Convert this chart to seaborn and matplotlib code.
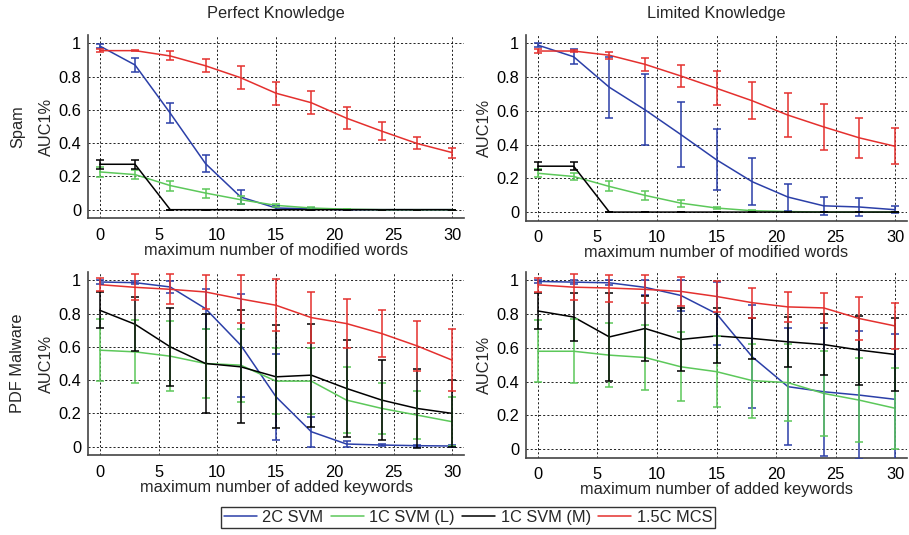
import numpy as np
import pandas as pd
import matplotlib
matplotlib.use("Agg")
import matplotlib.pyplot as plt
import seaborn as sns
from matplotlib.lines import Line2D

x = [0, 3, 6, 9, 12, 15, 18, 21, 24, 27, 30]
series_names = ["2C SVM", "1C SVM (L)", "1C SVM (M)", "1.5C MCS"]
colors = ["#2b3fa8", "#5cc85a", "#000000", "#e4302e"]
row_labels = ["Spam", "PDF Malware"]
col_titles = ["Perfect Knowledge", "Limited Knowledge"]
xlabels = ["maximum number of modified words", "maximum number of added keywords"]

# Spam - Perfect Knowledge
spam_pk_mean = {
    "2C SVM":     [0.984, 0.87, 0.58, 0.277, 0.076, 0.01, 0.005, 0.0, 0.0, 0.0, 0.0],
    "1C SVM (L)": [0.227, 0.211, 0.145, 0.10, 0.06, 0.026, 0.01, 0.003, 0.0, 0.0, 0.0],
    "1C SVM (M)": [0.273, 0.273, 0.0, 0.0, 0.0, 0.0, 0.0, 0.0, 0.0, 0.0, 0.0],
    "1.5C MCS":   [0.956, 0.956, 0.924, 0.865, 0.793, 0.70, 0.643, 0.55, 0.472, 0.398, 0.343],
}
spam_pk_err = {
    "2C SVM":     [0.01, 0.043, 0.06, 0.05, 0.04, 0.012, 0.005, 0.0, 0.0, 0.0, 0.0],
    "1C SVM (L)": [0.028, 0.027, 0.03, 0.027, 0.025, 0.01, 0.005, 0.0, 0.0, 0.0, 0.0],
    "1C SVM (M)": [0.027, 0.027, 0.0, 0.0, 0.0, 0.0, 0.0, 0.0, 0.0, 0.0, 0.0],
    "1.5C MCS":   [0.01, 0.005, 0.027, 0.04, 0.07, 0.07, 0.07, 0.068, 0.054, 0.036, 0.03],
}
# Spam - Limited Knowledge
spam_lk_mean = {
    "2C SVM":     [0.99, 0.921, 0.74, 0.606, 0.46, 0.31, 0.18, 0.089, 0.037, 0.03, 0.014],
    "1C SVM (L)": [0.23, 0.211, 0.152, 0.099, 0.053, 0.024, 0.008, 0.003, 0.0, 0.0, 0.0],
    "1C SVM (M)": [0.272, 0.272, 0.0, 0.0, 0.0, 0.0, 0.0, 0.0, 0.0, 0.0, 0.0],
    "1.5C MCS":   [0.955, 0.955, 0.93, 0.876, 0.807, 0.734, 0.66, 0.575, 0.505, 0.44, 0.39],
}
spam_lk_err = {
    "2C SVM":     [0.01, 0.045, 0.18, 0.21, 0.19, 0.18, 0.14, 0.08, 0.054, 0.053, 0.022],
    "1C SVM (L)": [0.025, 0.022, 0.03, 0.028, 0.02, 0.008, 0.004, 0.0, 0.0, 0.0, 0.0],
    "1C SVM (M)": [0.025, 0.025, 0.0, 0.0, 0.0, 0.0, 0.0, 0.0, 0.0, 0.0, 0.0],
    "1.5C MCS":   [0.01, 0.008, 0.02, 0.04, 0.065, 0.1, 0.11, 0.13, 0.137, 0.12, 0.107],
}
# PDF Malware - Perfect Knowledge
pdf_pk_mean = {
    "2C SVM":     [0.99, 0.986, 0.96, 0.83, 0.61, 0.30, 0.09, 0.016, 0.01, 0.006, 0.004],
    "1C SVM (L)": [0.58, 0.57, 0.544, 0.50, 0.49, 0.394, 0.394, 0.28, 0.23, 0.19, 0.15],
    "1C SVM (M)": [0.82, 0.736, 0.60, 0.50, 0.48, 0.42, 0.43, 0.35, 0.28, 0.23, 0.20],
    "1.5C MCS":   [0.974, 0.958, 0.946, 0.93, 0.888, 0.85, 0.776, 0.74, 0.68, 0.606, 0.52],
}
pdf_pk_err = {
    "2C SVM":     [0.01, 0.008, 0.038, 0.12, 0.31, 0.257, 0.09, 0.016, 0.008, 0.006, 0.004],
    "1C SVM (L)": [0.185, 0.19, 0.21, 0.21, 0.22, 0.20, 0.20, 0.20, 0.155, 0.145, 0.147],
    "1C SVM (M)": [0.107, 0.162, 0.233, 0.296, 0.34, 0.31, 0.31, 0.29, 0.24, 0.235, 0.20],
    "1.5C MCS":   [0.04, 0.077, 0.09, 0.10, 0.145, 0.155, 0.152, 0.147, 0.142, 0.15, 0.185],
}
# PDF Malware - Limited Knowledge
pdf_lk_mean = {
    "2C SVM":     [0.994, 0.99, 0.986, 0.959, 0.911, 0.803, 0.547, 0.37, 0.34, 0.32, 0.295],
    "1C SVM (L)": [0.58, 0.58, 0.557, 0.543, 0.488, 0.459, 0.406, 0.394, 0.33, 0.29, 0.242],
    "1C SVM (M)": [0.819, 0.783, 0.665, 0.715, 0.65, 0.671, 0.656, 0.636, 0.62, 0.587, 0.561],
    "1.5C MCS":   [0.974, 0.96, 0.955, 0.947, 0.935, 0.905, 0.868, 0.843, 0.837, 0.774, 0.73],
}
pdf_lk_err = {
    "2C SVM":     [0.01, 0.01, 0.015, 0.046, 0.09, 0.186, 0.305, 0.345, 0.38, 0.38, 0.385],
    "1C SVM (L)": [0.185, 0.19, 0.19, 0.19, 0.205, 0.21, 0.22, 0.23, 0.25, 0.25, 0.24],
    "1C SVM (M)": [0.108, 0.14, 0.26, 0.19, 0.186, 0.163, 0.12, 0.15, 0.18, 0.205, 0.215],
    "1.5C MCS":   [0.04, 0.077, 0.08, 0.083, 0.086, 0.092, 0.09, 0.09, 0.088, 0.125, 0.138],
}

panels = [[(spam_pk_mean, spam_pk_err), (spam_lk_mean, spam_lk_err)],
          [(pdf_pk_mean, pdf_pk_err), (pdf_lk_mean, pdf_lk_err)]]

sns.set_theme(style="white")
plt.rcParams["font.family"] = ["Liberation Sans", "DejaVu Sans"]
plt.rcParams["axes.unicode_minus"] = False

W, H = 909, 535
fig = plt.figure(figsize=(W / 100, H / 100), dpi=100)

# pixel boxes: (left, top, right, bottom)
boxes = [[(88, 35, 464, 218), (526, 35, 907, 220.5)],
         [(88, 272, 464, 455), (526, 272, 907, 457.5)]]

FS = 11.8
for r in range(2):
    for c in range(2):
        l, t, rr, b = boxes[r][c]
        ax = fig.add_axes([l / W, 1 - b / H, (rr - l) / W, (b - t) / H])
        means, errs = panels[r][c]
        rows = []
        for name in series_names:
            for xi, m in zip(x, means[name]):
                rows.append({"x": xi, "y": m, "series": name})
        df = pd.DataFrame(rows)
        sns.lineplot(data=df, x="x", y="y", hue="series", hue_order=series_names,
                     palette=colors, linewidth=1.1, ax=ax, legend=False, zorder=3)
        for name, col in zip(series_names, colors):
            ax.errorbar(x, means[name], yerr=errs[name], fmt="none", ecolor=col,
                        elinewidth=1.1, capsize=3.2, capthick=1.1, zorder=3)
        ax.set_xlim(-1, 31)
        ax.set_ylim(-0.05, 1.05)
        ax.set_xticks([0, 5, 10, 15, 20, 25, 30])
        ax.set_yticks([0, 0.2, 0.4, 0.6, 0.8, 1.0])
        ax.set_yticklabels(["0", "0.2", "0.4", "0.6", "0.8", "1"])
        ax.grid(True, linestyle=(0, (2.5, 2.5)), color="black", linewidth=0.6, zorder=0)
        ax.set_axisbelow(True)
        for s in ["top", "right"]:
            ax.spines[s].set_visible(False)
        for s in ["left", "bottom"]:
            ax.spines[s].set_color("#444444")
            ax.spines[s].set_linewidth(1.2)
        ax.tick_params(axis="both", labelsize=FS, colors="black", direction="in",
                       length=3)
        ax.tick_params(axis="x", pad=7)
        ax.tick_params(axis="y", pad=5)
        ax.set_xlabel(xlabels[r], fontsize=FS, labelpad=0)
        ax.set_ylabel("AUC1%", fontsize=FS, labelpad=3)
        if r == 0:
            ax.set_title(col_titles[c], fontsize=FS, pad=12)

fig.text(18 / W, 1 - 127 / H, row_labels[0], rotation=90, fontsize=FS,
         ha="center", va="center")
fig.text(18 / W, 1 - 363 / H, row_labels[1], rotation=90, fontsize=FS,
         ha="center", va="center")

handles = [Line2D([0], [0], color=col, lw=1.1) for col in colors]
leg = fig.legend(handles, series_names, loc="center", ncol=4,
                 bbox_to_anchor=(468 / W, 1 - 517.5 / H), fontsize=FS,
                 frameon=True, fancybox=False, handlelength=2.0,
                 handletextpad=0.35, columnspacing=0.45, borderpad=0.2,
                 borderaxespad=0)
leg.get_frame().set_edgecolor("black")
leg.get_frame().set_linewidth(1.0)

fig.savefig("out.png", dpi=100)
